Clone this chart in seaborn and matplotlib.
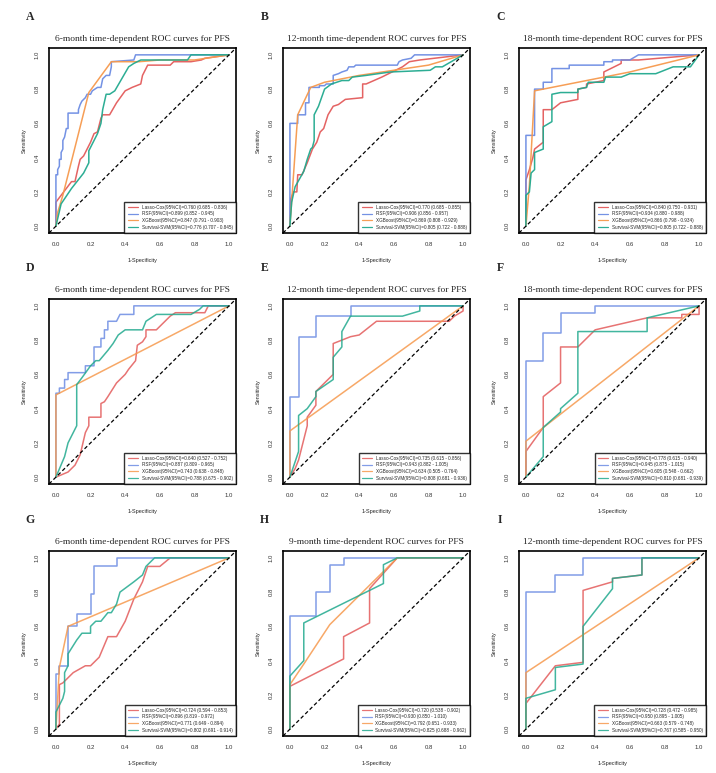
import matplotlib
matplotlib.use("Agg")
import matplotlib.pyplot as plt
import seaborn as sns

# models and colours
models = ["Lasso-Cox", "RSF", "XGBoost", "Survival-SVM"]
colors = ["#E35B5B", "#6C8CE3", "#F6994D", "#21A98E"]

letters = ["A", "B", "C", "D", "E", "F", "G", "H", "I"]
months = ["6", "12", "18", "6", "12", "18", "6", "9", "12"]

# ROC points (1-specificity, sensitivity)
A_lasso = [(0, 0), (0, 0.14), (0.09, 0.26), (0.11, 0.26), (0.13, 0.35), (0.14, 0.39), (0.16, 0.41), (0.20, 0.49),
           (0.22, 0.54), (0.24, 0.55), (0.26, 0.63), (0.27, 0.65), (0.31, 0.65), (0.35, 0.72), (0.40, 0.79),
           (0.44, 0.81), (0.49, 0.83), (0.50, 0.88), (0.52, 0.92), (0.53, 0.94), (0.66, 0.94), (0.68, 0.96),
           (0.78, 0.96), (0.84, 0.97), (0.86, 0.98), (1, 1)]
A_rsf = [(0, 0), (0, 0.30), (0.01, 0.30), (0.01, 0.33), (0.02, 0.35), (0.02, 0.39), (0.03, 0.39), (0.03, 0.43),
         (0.04, 0.45), (0.04, 0.50), (0.05, 0.52), (0.06, 0.57), (0.07, 0.57), (0.07, 0.66), (0.13, 0.66),
         (0.13, 0.68), (0.14, 0.71), (0.15, 0.73), (0.17, 0.75), (0.18, 0.77), (0.20, 0.77), (0.21, 0.79),
         (0.24, 0.81), (0.26, 0.81), (0.27, 0.86), (0.29, 0.88), (0.31, 0.88), (0.32, 0.93), (0.32, 0.96),
         (0.45, 0.97), (0.46, 1.0), (1, 1)]
A_xgb = [(0, 0), (0.01, 0.08), (0.04, 0.18), (0.12, 0.50), (0.19, 0.78), (0.32, 0.96), (0.48, 0.96), (0.60, 0.97),
         (0.80, 0.97), (1, 1)]
A_svm = [(0, 0), (0.03, 0.13), (0.09, 0.22), (0.16, 0.31), (0.19, 0.37), (0.19, 0.44), (0.22, 0.50), (0.24, 0.54),
         (0.26, 0.60), (0.27, 0.68), (0.29, 0.77), (0.31, 0.77), (0.34, 0.79), (0.38, 0.86), (0.42, 0.93),
         (0.45, 0.95), (0.49, 0.97), (0.76, 0.97), (0.78, 1.0), (1, 1)]

B_lasso = [(0, 0), (0.005, 0.16), (0.02, 0.20), (0.04, 0.20), (0.045, 0.30), (0.07, 0.30), (0.10, 0.37),
           (0.13, 0.45), (0.155, 0.49), (0.175, 0.55), (0.195, 0.57), (0.22, 0.65), (0.25, 0.70), (0.28, 0.71),
           (0.32, 0.74), (0.42, 0.75), (0.42, 0.83), (0.44, 0.83), (0.53, 0.87), (0.59, 0.90), (0.65, 0.93),
           (0.69, 0.96), (0.75, 0.97), (1, 1)]
B_rsf = [(0, 0), (0, 0.60), (0.045, 0.60), (0.045, 0.65), (0.09, 0.65), (0.09, 0.72), (0.11, 0.72), (0.11, 0.81),
         (0.17, 0.81), (0.17, 0.82), (0.20, 0.82), (0.21, 0.83), (0.25, 0.83), (0.25, 0.88), (0.28, 0.89),
         (0.30, 0.90), (0.33, 0.91), (0.34, 0.93), (0.37, 0.93), (0.38, 0.94), (0.62, 0.94), (0.63, 0.96),
         (0.65, 0.97), (0.70, 0.98), (0.72, 1.0), (1, 1)]
B_xgb = [(0, 0), (0.045, 0.65), (0.12, 0.81), (0.20, 0.84), (0.40, 0.88), (0.60, 0.91), (0.80, 0.94), (1, 1)]
B_svm = [(0, 0), (0.01, 0.14), (0.03, 0.23), (0.08, 0.32), (0.10, 0.39), (0.12, 0.45), (0.13, 0.46), (0.14, 0.50),
         (0.14, 0.65), (0.165, 0.70), (0.20, 0.80), (0.24, 0.83), (0.30, 0.85), (0.34, 0.85), (0.36, 0.87),
         (0.44, 0.88), (0.58, 0.90), (0.81, 0.91), (0.84, 0.93), (0.88, 0.93), (1, 1)]

C_lasso = [(0, 0), (0, 0.27), (0.02, 0.33), (0.04, 0.40), (0.05, 0.45), (0.10, 0.49), (0.10, 0.68), (0.15, 0.68),
           (0.20, 0.72), (0.30, 0.74), (0.30, 0.80), (0.35, 0.81), (0.35, 0.83), (0.45, 0.85), (0.45, 0.90),
           (0.55, 0.95), (0.55, 0.97), (0.65, 0.97), (1, 1)]
C_rsf = [(0, 0), (0, 0.53), (0.05, 0.53), (0.05, 0.80), (0.10, 0.80), (0.10, 0.84), (0.15, 0.84), (0.15, 0.92),
         (0.25, 0.92), (0.25, 0.94), (0.45, 0.94), (0.45, 0.96), (0.50, 0.96), (0.50, 0.97), (0.60, 0.97),
         (0.65, 1.0), (1, 1)]
C_xgb = [(0, 0), (0.02, 0.24), (0.05, 0.79), (0.30, 0.84), (0.60, 0.90), (1, 1)]
C_svm = [(0, 0), (0, 0.18), (0.02, 0.20), (0.03, 0.31), (0.05, 0.33), (0.05, 0.43), (0.10, 0.45), (0.10, 0.58),
         (0.15, 0.61), (0.15, 0.77), (0.20, 0.78), (0.30, 0.78), (0.30, 0.80), (0.35, 0.81), (0.36, 0.84),
         (0.45, 0.84), (0.46, 0.87), (0.55, 0.87), (0.60, 0.89), (0.75, 0.89), (0.80, 0.91), (0.85, 0.93),
         (0.95, 0.93), (1, 1)]

D_lasso = [(0, 0), (0.07, 0.03), (0.11, 0.07), (0.14, 0.13), (0.17, 0.26), (0.19, 0.30), (0.19, 0.35),
           (0.26, 0.35), (0.26, 0.43), (0.28, 0.44), (0.30, 0.47), (0.35, 0.55), (0.40, 0.60), (0.42, 0.63),
           (0.46, 0.68), (0.47, 0.77), (0.50, 0.79), (0.52, 0.82), (0.52, 0.86), (0.58, 0.86), (0.62, 0.90),
           (0.66, 0.94), (0.69, 0.96), (0.86, 0.96), (0.88, 1.0), (1, 1)]
D_rsf = [(0, 0), (0, 0.49), (0.02, 0.49), (0.02, 0.52), (0.05, 0.52), (0.05, 0.57), (0.07, 0.57), (0.07, 0.61),
         (0.17, 0.61), (0.17, 0.65), (0.22, 0.65), (0.22, 0.76), (0.26, 0.76), (0.26, 0.81), (0.28, 0.81),
         (0.28, 0.86), (0.30, 0.86), (0.30, 0.91), (0.35, 0.91), (0.37, 0.95), (0.45, 0.95), (0.45, 1.0), (1, 1)]
D_xgb = [(0, 0), (0, 0.48), (1, 1)]
D_svm = [(0, 0), (0.05, 0.12), (0.07, 0.20), (0.10, 0.26), (0.12, 0.30), (0.12, 0.54), (0.15, 0.58), (0.20, 0.65),
         (0.23, 0.68), (0.25, 0.68), (0.30, 0.74), (0.33, 0.78), (0.36, 0.83), (0.40, 0.86), (0.50, 0.86),
         (0.52, 0.91), (0.55, 0.93), (0.58, 0.95), (0.78, 0.95), (0.83, 0.98), (0.85, 1.0), (1, 1)]

E_lasso = [(0, 0), (0.03, 0.05), (0.05, 0.10), (0.08, 0.22), (0.10, 0.30), (0.10, 0.35), (0.15, 0.42),
           (0.15, 0.50), (0.20, 0.55), (0.25, 0.60), (0.25, 0.78), (0.30, 0.80), (0.35, 0.82), (0.40, 0.83),
           (0.50, 0.91), (0.92, 0.91), (0.95, 0.94), (1, 0.97), (1, 1)]
E_rsf = [(0, 0), (0, 0.47), (0.05, 0.47), (0.05, 0.82), (0.15, 0.82), (0.15, 0.94), (0.35, 0.94), (0.35, 1.0), (1, 1)]
E_xgb = [(0, 0), (0, 0.27), (1, 1)]
E_svm = [(0, 0), (0.05, 0.15), (0.05, 0.36), (0.10, 0.40), (0.15, 0.47), (0.15, 0.50), (0.25, 0.57), (0.25, 0.70),
         (0.30, 0.76), (0.30, 0.85), (0.35, 0.94), (0.65, 0.94), (0.75, 0.97), (0.75, 1.0), (1, 1)]

F_lasso = [(0, 0), (0, 0.15), (0.10, 0.29), (0.10, 0.47), (0.20, 0.55), (0.20, 0.76), (0.30, 0.76), (0.40, 0.86),
           (0.70, 0.93), (0.90, 0.93), (0.90, 0.95), (1, 0.95), (1, 1)]
F_rsf = [(0, 0), (0, 0.68), (0.10, 0.68), (0.10, 0.84), (0.20, 0.84), (0.20, 0.96), (0.40, 0.96), (0.40, 1.0), (1, 1)]
F_xgb = [(0, 0), (0, 0.21), (1, 1)]
F_svm = [(0, 0), (0.10, 0.12), (0.10, 0.29), (0.20, 0.38), (0.20, 0.40), (0.30, 0.49), (0.30, 0.85), (0.70, 0.85),
         (0.70, 0.93), (1, 1)]

G_lasso = [(0, 0), (0.02, 0.03), (0.02, 0.26), (0.04, 0.27), (0.07, 0.30), (0.10, 0.33), (0.17, 0.37),
           (0.20, 0.37), (0.25, 0.42), (0.30, 0.54), (0.35, 0.54), (0.40, 0.63), (0.45, 0.76), (0.50, 0.86),
           (0.53, 0.95), (0.60, 0.95), (0.66, 1.0), (1, 1)]
G_rsf = [(0, 0), (0, 0.32), (0.02, 0.32), (0.02, 0.37), (0.07, 0.37), (0.07, 0.60), (0.12, 0.60), (0.12, 0.67),
         (0.20, 0.67), (0.20, 0.79), (0.22, 0.79), (0.22, 0.95), (0.35, 0.95), (0.35, 1.0), (1, 1)]
G_xgb = [(0, 0), (0.02, 0.36), (0.07, 0.60), (1, 1)]
G_svm = [(0, 0), (0, 0.10), (0.04, 0.18), (0.05, 0.22), (0.05, 0.33), (0.07, 0.37), (0.07, 0.44), (0.12, 0.52),
         (0.15, 0.56), (0.20, 0.56), (0.20, 0.60), (0.23, 0.63), (0.26, 0.63), (0.30, 0.68), (0.32, 0.68),
         (0.35, 0.73), (0.37, 0.80), (0.45, 0.86), (0.50, 0.90), (0.52, 0.95), (0.57, 1.0), (1, 1)]

H_lasso = [(0, 0), (0, 0.25), (0.31, 0.41), (0.31, 0.54), (0.46, 0.62), (0.46, 0.82), (0.62, 1.0), (1, 1)]
H_rsf = [(0, 0), (0, 0.66), (0.15, 0.66), (0.15, 0.80), (0.23, 0.80), (0.23, 0.96), (0.31, 0.96), (0.31, 1.0), (1, 1)]
H_xgb = [(0, 0), (0, 0.26), (0.08, 0.38), (0.23, 0.61), (0.62, 1.0), (1, 1)]
H_svm = [(0, 0), (0, 0.31), (0.08, 0.40), (0.08, 0.62), (0.54, 0.85), (0.54, 0.96), (0.62, 1.0), (1, 1)]

I_lasso = [(0, 0), (0, 0.15), (0.17, 0.37), (0.33, 0.39), (0.33, 0.81), (0.50, 0.86), (0.50, 0.88), (0.67, 0.90),
           (0.67, 1.0), (1, 1)]
I_rsf = [(0, 0), (0, 0.80), (0.17, 0.80), (0.17, 0.90), (0.33, 0.90), (0.33, 1.0), (1, 1)]
I_xgb = [(0, 0), (0, 0.33), (1, 1)]
I_svm = [(0, 0), (0, 0.18), (0.17, 0.23), (0.17, 0.36), (0.33, 0.38), (0.33, 0.60), (0.50, 0.82), (0.50, 0.88),
         (0.67, 0.90), (0.67, 1.0), (1, 1)]

# AUC (95% CI) in the legends
A_auc = ["0.760 (0.685 - 0.836)", "0.899 (0.852 - 0.945)", "0.847 (0.791 - 0.903)", "0.776 (0.707 - 0.845)"]
B_auc = ["0.770 (0.685 - 0.855)", "0.906 (0.856 - 0.957)", "0.869 (0.808 - 0.929)", "0.805 (0.722 - 0.888)"]
C_auc = ["0.840 (0.750 - 0.931)", "0.934 (0.880 - 0.988)", "0.866 (0.798 - 0.934)", "0.805 (0.722 - 0.888)"]
D_auc = ["0.640 (0.527 - 0.752)", "0.887 (0.809 - 0.965)", "0.743 (0.638 - 0.848)", "0.788 (0.675 - 0.902)"]
E_auc = ["0.735 (0.615 - 0.856)", "0.943 (0.882 - 1.005)", "0.634 (0.505 - 0.764)", "0.808 (0.681 - 0.936)"]
F_auc = ["0.778 (0.615 - 0.940)", "0.945 (0.875 - 1.015)", "0.605 (0.548 - 0.662)", "0.810 (0.681 - 0.939)"]
G_auc = ["0.724 (0.594 - 0.853)", "0.896 (0.819 - 0.972)", "0.771 (0.649 - 0.894)", "0.802 (0.691 - 0.914)"]
H_auc = ["0.720 (0.538 - 0.902)", "0.930 (0.850 - 1.010)", "0.792 (0.651 - 0.933)", "0.825 (0.688 - 0.962)"]
I_auc = ["0.728 (0.472 - 0.985)", "0.950 (0.895 - 1.005)", "0.663 (0.579 - 0.748)", "0.767 (0.585 - 0.950)"]

curves = [[A_lasso, A_rsf, A_xgb, A_svm], [B_lasso, B_rsf, B_xgb, B_svm], [C_lasso, C_rsf, C_xgb, C_svm],
          [D_lasso, D_rsf, D_xgb, D_svm], [E_lasso, E_rsf, E_xgb, E_svm], [F_lasso, F_rsf, F_xgb, F_svm],
          [G_lasso, G_rsf, G_xgb, G_svm], [H_lasso, H_rsf, H_xgb, H_svm], [I_lasso, I_rsf, I_xgb, I_svm]]
aucs = [A_auc, B_auc, C_auc, D_auc, E_auc, F_auc, G_auc, H_auc, I_auc]

sns.set_style("white")
plt.rcParams['font.family'] = ['Liberation Sans', 'DejaVu Sans']

W, H = 716, 773
fig = plt.figure(figsize=(W / 100, H / 100), dpi=100)

col_left = [49, 283, 519]
row_top = [48, 299, 551]
box_w, box_h = 187, 185

for k in range(9):
    r, c = divmod(k, 3)
    ax = fig.add_axes([col_left[c] / W, 1 - (row_top[r] + box_h) / H, box_w / W, box_h / H])

    for m in range(4):
        xs = [p[0] for p in curves[k][m]]
        ys = [p[1] for p in curves[k][m]]
        sns.lineplot(x=xs, y=ys, sort=False, estimator=None, color=colors[m], lw=1.1,
                     alpha=0.95 if r == 0 else 0.85,
                     label=f"{models[m]}(95%CI)={aucs[k][m]}", ax=ax)

    # reference diagonal
    ax.axline((0, 0), slope=1, color='black', lw=0.9, ls=(0, (3, 2)))

    ax.set_xlim(-0.04, 1.04)
    ax.set_ylim(-0.04, 1.04)
    ticks = [0.0, 0.2, 0.4, 0.6, 0.8, 1.0]
    ax.set_xticks(ticks)
    ax.set_yticks(ticks)
    ax.set_xticklabels([f"{t:.1f}" for t in ticks], fontsize=4.3, color='#333333')
    ax.set_yticklabels([f"{t:.1f}" for t in ticks], fontsize=4.3, color='#333333', rotation=90, va='center')
    ax.tick_params(direction='out', length=3, width=0.6, pad=3.5, colors='#333333')
    for s in ax.spines.values():
        s.set_linewidth(1.2)
        s.set_color('black')

    ax.set_xlabel("1-Specificity", fontsize=4.0)
    ax.set_ylabel("Sensitivity", fontsize=4.0)
    ax.xaxis.set_label_coords(0.5, -0.135)
    ax.yaxis.set_label_coords(-0.118, 0.5)

    ax.set_title(f"{months[k]}-month time-dependent ROC curves for PFS",
                 family='Liberation Serif', fontsize=6.8, pad=5)
    ax.text(-0.10, 1.165, letters[k], transform=ax.transAxes, family='Liberation Serif',
            fontweight='bold', fontsize=8.5, ha='center', va='center')

    leg = ax.legend(loc='lower right', fontsize=3.35, frameon=True, fancybox=False,
                    borderaxespad=0, handlelength=2.2, labelspacing=0.35, borderpad=0.7,
                    handletextpad=0.8)
    leg.get_frame().set_edgecolor('black')
    leg.get_frame().set_linewidth(1.0)
    for line in leg.get_lines():
        line.set_linewidth(0.9)

fig.savefig("out.png", dpi=100, facecolor='white')
